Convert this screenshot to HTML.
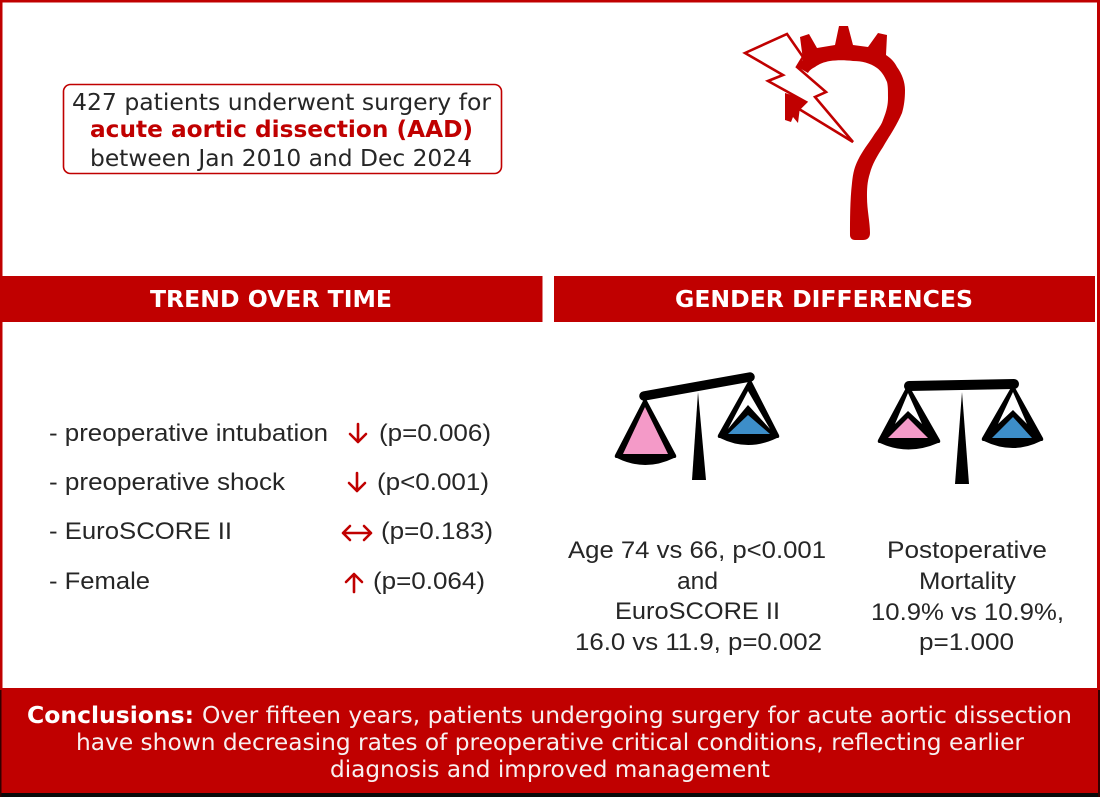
<!DOCTYPE html>
<html lang="en">
<head>
<meta charset="utf-8">
<title>Acute aortic dissection graphical abstract</title>
<style>
html,body{margin:0;padding:0;background:#fff;width:1100px;height:797px;overflow:hidden}
svg{display:block;filter:blur(0.35px)}
.v{font-family:"DejaVu Sans",sans-serif}
.a{font-family:"Liberation Sans",sans-serif;font-size:24px;fill:#262626}
.vb{font-family:"DejaVu Sans",sans-serif;font-weight:bold}
.w{fill:#f7f0f0}
</style>
</head>
<body>
<svg width="1100" height="797" viewBox="0 0 1100 797">
  <rect x="0" y="0" width="1100" height="797" fill="#fff"/>
  <g fill="#c00000">
    <rect x="0" y="0" width="1100" height="2.5"/>
    <rect x="0" y="0" width="2.5" height="690"/>
    <rect x="1097" y="0" width="3" height="690"/>
  </g>

  <g>
    <rect x="63.5" y="84.5" width="438" height="89" rx="7" fill="#fff" stroke="#c00000" stroke-width="1.6"/>
    <text class="v" x="72" y="110" font-size="23.5" fill="#262626" textLength="419" lengthAdjust="spacingAndGlyphs">427 patients underwent surgery for</text>
    <text class="vb" x="90" y="137" font-size="23.5" fill="#c00000" textLength="383" lengthAdjust="spacingAndGlyphs">acute aortic dissection (AAD)</text>
    <text class="v" x="90" y="166" font-size="23.5" fill="#262626" textLength="382" lengthAdjust="spacingAndGlyphs">between Jan 2010 and Dec 2024</text>
  </g>

  <g>
    <path d="M850,235 C850,220 850,200 852,183 C853,172 855,166 858,160 C863,150 868,144 872,138 C877,130 881,126 883,120 C887,110 888,104 888,98 C888,90 888,86 887,82 C884,75 881,71 877,68 C870,63 862,61 853,61 C845,60 837,60 830,61 C824,62 819,64 815,67 C811,69 809,71 808,73 L796,66 L803,60 L800,37 L809,34 L817,48 L835,45 L839,26 L848,26 L853,45 L868,47 L878,33 L887,35 L886,55 C892,59 895,63 897,67 C902,74 905,82 905,90 C905,99 904,106 902,113 C897,125 890,135 883,147 C877,156 872,165 870,173 C867,182 867,190 867,197 C867,210 870,222 870,233 C870,238 867,240 863,240 L855,240 C852,240 850,238 850,235 Z" fill="#c00000"/>
    <polygon points="785,93 785,120 791,122 793,117 798,123 800,107 808,100" fill="#c00000"/>
    <polygon points="745,53 787,34 803,57 797,67 826,92 815,97 853,142 799,109 806,102 768,81 783,75" fill="#fff" stroke="#c00000" stroke-width="2.6" stroke-linejoin="miter"/>
  </g>

  <rect x="0" y="276" width="542.5" height="46" fill="#c00000"/>
  <rect x="554" y="276" width="541" height="46" fill="#c00000"/>
  <text class="vb" x="150" y="307" font-size="23" fill="#fff" textLength="242" lengthAdjust="spacingAndGlyphs">TREND OVER TIME</text>
  <text class="vb" x="675" y="307" font-size="23" fill="#fff" textLength="298" lengthAdjust="spacingAndGlyphs">GENDER DIFFERENCES</text>

  <g>
    <text class="a" x="49" y="441" textLength="279" lengthAdjust="spacingAndGlyphs">- preoperative intubation</text>
    <text class="a" x="379" y="441" textLength="112" lengthAdjust="spacingAndGlyphs">(p=0.006)</text>
    <text class="a" x="49" y="490" textLength="236" lengthAdjust="spacingAndGlyphs">- preoperative shock</text>
    <text class="a" x="377" y="490" textLength="112" lengthAdjust="spacingAndGlyphs">(p&lt;0.001)</text>
    <text class="a" x="49" y="539" textLength="183" lengthAdjust="spacingAndGlyphs">- EuroSCORE II</text>
    <text class="a" x="381" y="539" textLength="112" lengthAdjust="spacingAndGlyphs">(p=0.183)</text>
    <text class="a" x="49" y="589" textLength="101" lengthAdjust="spacingAndGlyphs">- Female</text>
    <text class="a" x="373" y="589" textLength="112" lengthAdjust="spacingAndGlyphs">(p=0.064)</text>
    <g fill="none" stroke="#c00000" stroke-width="2.6" stroke-linecap="round" stroke-linejoin="round">
      <path d="M358,424 V442 M350,434 L358,442 L366,434"/>
      <path d="M357,473 V491 M349,483 L357,491 L365,483"/>
      <path d="M343,533 H371 M350,526 L343,533 L350,540 M364,526 L371,533 L364,540"/>
      <path d="M354,592 V574 M346,582 L354,574 L362,582"/>
    </g>
  </g>

  <g>
    <polygon points="698,392 692,480 706,480" fill="#000"/>
    <path d="M645,397 L676,455 Q677,458 674,458 Q645,472 617,458 Q614,458 615,455 Z" fill="#000"/>
    <polygon points="645,407 668,454 623,454" fill="#f49ac8"/>
    <path d="M750,378 L779,435 Q780,438 777,438 Q748,452 720,438 Q717,438 718,435 Z" fill="#000"/>
    <polygon points="748,391 770,429 748,405 728,429" fill="#fff"/>
    <polygon points="748,415 770,434 728,434" fill="#3d8ec9"/>
    <line x1="644" y1="396" x2="750" y2="377" stroke="#000" stroke-width="9.5" stroke-linecap="round"/>
  </g>

  <g>
    <polygon points="962,392 955,484 969,484" fill="#000"/>
    <path d="M908,384 L940,440 Q941,443 938,443 Q908,456 880,443 Q877,443 878,440 Z" fill="#000"/>
    <polygon points="908,393 922,424 908,411 895,424" fill="#fff"/>
    <polygon points="908,418 928,438 888,438" fill="#f49ac8"/>
    <path d="M1013,384 L1043,438 Q1044,441 1041,441 Q1013,455 984,441 Q981,441 982,438 Z" fill="#000"/>
    <polygon points="1013,392 1027,424 1013,410 998,424" fill="#fff"/>
    <polygon points="1013,417 1032,438 992,438" fill="#3d8ec9"/>
    <line x1="909" y1="386" x2="1014" y2="384" stroke="#000" stroke-width="10" stroke-linecap="round"/>
  </g>

  <g>
    <text class="a" x="568" y="558" textLength="258" lengthAdjust="spacingAndGlyphs">Age 74 vs 66, p&lt;0.001</text>
    <text class="a" x="677" y="589" textLength="41" lengthAdjust="spacingAndGlyphs">and</text>
    <text class="a" x="615" y="619" textLength="165" lengthAdjust="spacingAndGlyphs">EuroSCORE II</text>
    <text class="a" x="575" y="650" textLength="247" lengthAdjust="spacingAndGlyphs">16.0 vs 11.9, p=0.002</text>
  </g>
  <g>
    <text class="a" x="887" y="558" textLength="160" lengthAdjust="spacingAndGlyphs">Postoperative</text>
    <text class="a" x="919" y="589" textLength="97" lengthAdjust="spacingAndGlyphs">Mortality</text>
    <text class="a" x="871" y="620" textLength="193" lengthAdjust="spacingAndGlyphs">10.9% vs 10.9%,</text>
    <text class="a" x="919" y="650" textLength="95" lengthAdjust="spacingAndGlyphs">p=1.000</text>
  </g>

  <rect x="0" y="688" width="1100" height="105" fill="#c00000"/>
  <rect x="0" y="793" width="1100" height="4" fill="#0a0a0a"/>
  <rect x="0" y="690" width="1.5" height="107" fill="#300"/>
  <rect x="1098" y="690" width="2" height="107" fill="#300"/>
  <g>
    <text class="vb" x="27" y="723" font-size="23" fill="#fff" textLength="167" lengthAdjust="spacingAndGlyphs">Conclusions:</text>
    <text class="v w" x="202" y="723" font-size="23" textLength="870" lengthAdjust="spacingAndGlyphs">Over fifteen years, patients undergoing surgery for acute aortic dissection</text>
    <text class="v w" x="76" y="750" font-size="23" textLength="948" lengthAdjust="spacingAndGlyphs">have shown decreasing rates of preoperative critical conditions, reflecting earlier</text>
    <text class="v w" x="330" y="777" font-size="23" textLength="440" lengthAdjust="spacingAndGlyphs">diagnosis and improved management</text>
  </g>
</svg>
</body>
</html>
